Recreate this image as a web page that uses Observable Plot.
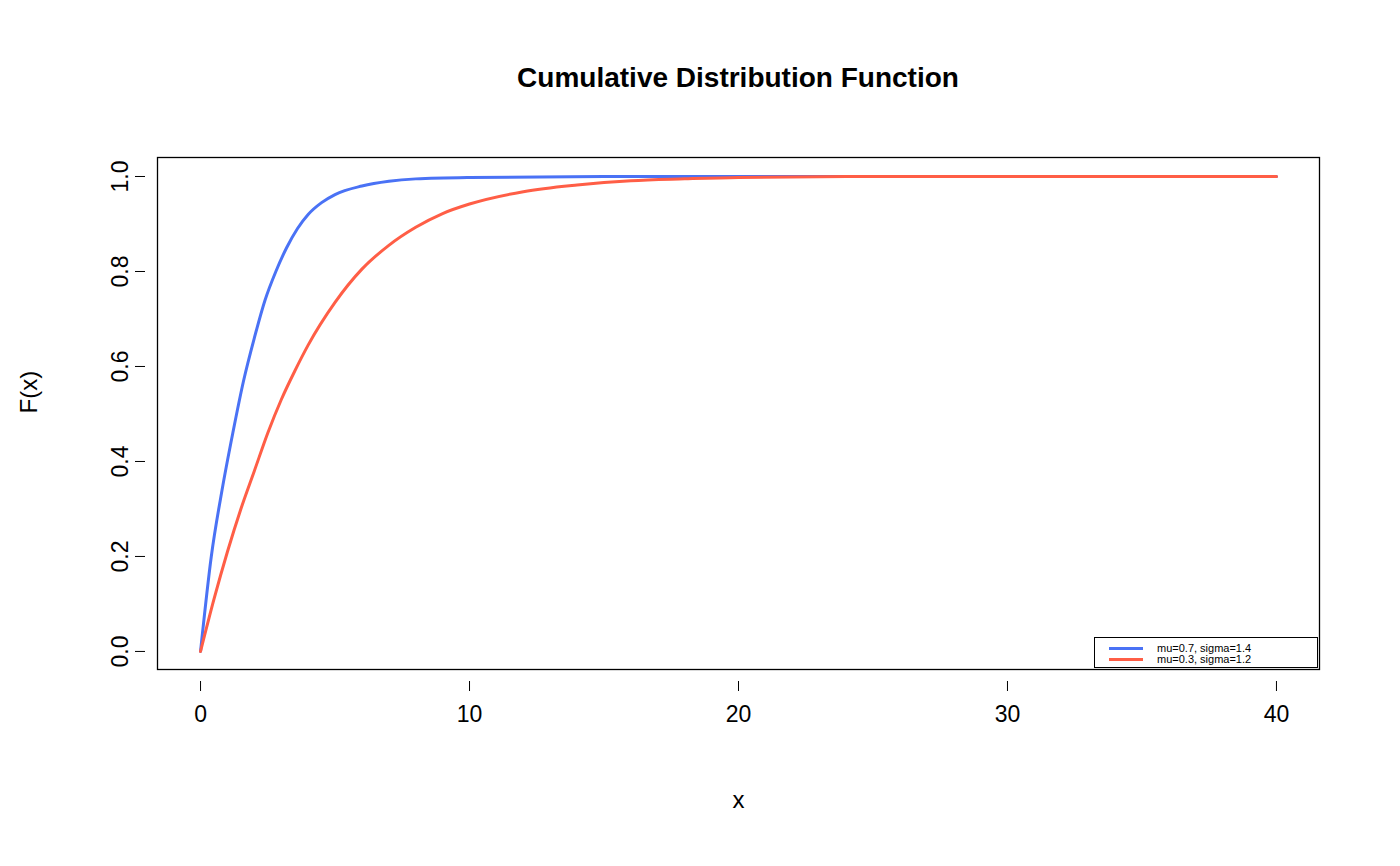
<!DOCTYPE html>
<html><head><meta charset="utf-8">
<script src="https://cdn.jsdelivr.net/npm/d3@7"></script>
<script src="https://cdn.jsdelivr.net/npm/@observablehq/plot@0.6"></script>
<style>
body{margin:0;background:#fff;font-family:"Liberation Sans",Arial,sans-serif;}
#wrap{position:relative;width:1400px;height:866px;}
#title{position:absolute;top:62px;left:0;width:1476px;text-align:center;font-weight:bold;font-size:28px;}
#legend{position:absolute;left:1094px;top:637px;width:224px;height:31px;border:1px solid #000;background:#fff;font-size:11px;line-height:11px;}
.row{display:flex;align-items:center;height:11px;margin-left:14px;}
.sw{width:34px;height:3px;margin-right:14px;}
</style></head><body>
<div id="wrap"><div id="title">Cumulative Distribution Function</div><div id="chart"></div>
<div id="legend" style="padding-top:5px;box-sizing:border-box">
<div class="row"><div class="sw" style="background:#4a72f5"></div>mu=0.7, sigma=1.4</div>
<div class="row"><div class="sw" style="background:#ff5e46"></div>mu=0.3, sigma=1.2</div>
</div></div>
<script>
const seriesNames = ["mu=0.7, sigma=1.4", "mu=0.3, sigma=1.2"];
const colors = ["#4a72f5", "#ff5e46"];
const blueX = [0,0.4,0.8,1.2,1.6,2.0,2.4,2.8,3.2,3.6,4.0,4.5,5,6,7,8,10,15,20,40];
const blueY = [0,0.2,0.34,0.46,0.57,0.66,0.74,0.80,0.85,0.89,0.92,0.945,0.962,0.98,0.99,0.995,0.998,1,1,1];
const redX = [0,0.5,1,1.5,2,2.5,3,3.5,4,5,6,7,8,9,10,12,14,16,18,20,25,40];
const redY = [0,0.11,0.21,0.3,0.38,0.46,0.53,0.59,0.645,0.735,0.805,0.855,0.893,0.922,0.942,0.968,0.982,0.991,0.995,0.998,1,1];
const xTicks = [0,10,20,30,40];
const yTicks = [0,0.2,0.4,0.6,0.8,1.0];
const data = [
  ...blueX.map((x,i)=>({x,y:blueY[i],s:seriesNames[0]})),
  ...redX.map((x,i)=>({x,y:redY[i],s:seriesNames[1]}))
];
const plot = Plot.plot({
  width:1400, height:866,
  marginLeft:157, marginRight:81, marginTop:157, marginBottom:197,
  style:{fontFamily:"Liberation Sans, Arial, sans-serif", fontSize:"22px", background:"#fff"},
  x:{domain:[-1.6,41.6]},
  y:{domain:[-0.038,1.04]},
  color:{domain:seriesNames, range:colors},
  marks:[
    Plot.frame({stroke:"#000", strokeWidth:1.3}),
    Plot.line(data,{x:"x",y:"y",stroke:"s",strokeWidth:3,curve:"monotone-x"}),
    Plot.axisX({ticks:xTicks, tickFormat:d=>d, tickSize:10, tickPadding:14, fontSize:23, label:null, anchor:"bottom", dy:12}),
    Plot.axisY({ticks:yTicks, tickFormat:d=>d.toFixed(1), tickSize:10, tickPadding:8, fontSize:23, tickRotate:-90, label:null, dx:-12}),
    Plot.text(["x"],{frameAnchor:"bottom", dy:138, text:d=>d, fontSize:24}),
    Plot.text(["F(x)"],{frameAnchor:"left", dx:-128, rotate:-90, text:d=>d, fontSize:24})
  ]
});
document.getElementById("chart").appendChild(plot);
</script></body></html>
